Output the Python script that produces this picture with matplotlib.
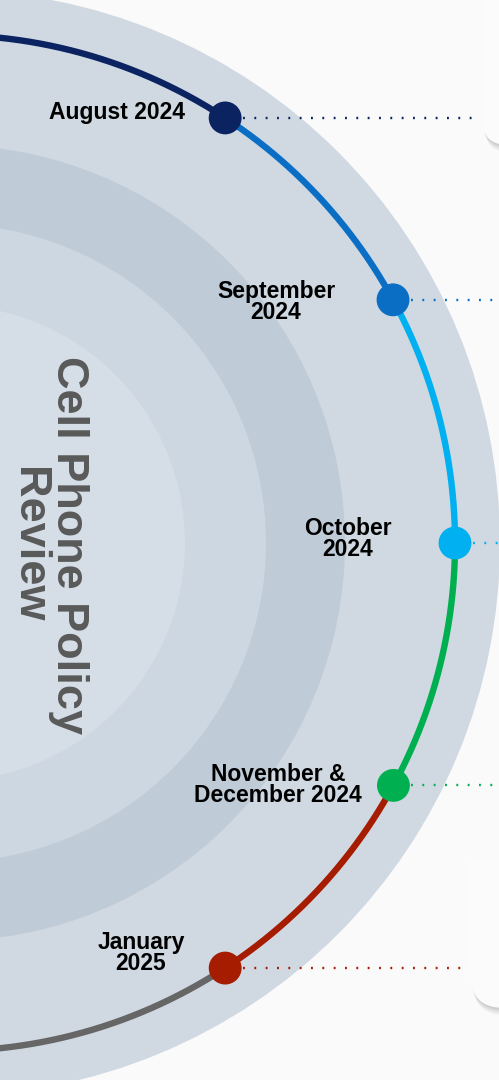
import numpy as np
import matplotlib
matplotlib.use("Agg")
import matplotlib.pyplot as plt
from matplotlib.patches import Circle, FancyBboxPatch

# ---- data ----
milestones = ["August 2024", "September\n2024", "October\n2024",
              "November &\nDecember 2024", "January\n2025"]
node_angles = [56.8, 28.6, 0.0, -28.5, -56.8]          # degrees on the timeline arc
node_colors = ["#0b2461", "#0a6fc4", "#00b0f0", "#00b050", "#a61c00"]
tail_color = "#666666"      # arc after last milestone
title_lines = ["Cell Phone Policy", "Review"]

# ---- layout (pixels) ----
W, H = 499, 1080
cx, cy = -53, 543
r_line = 508
rings = [(553, "#d0d9e2"), (398, "#bfcbd7"), (319, "#cdd7e1"), (238, "#d5dde6")]
label_pos = [(185, 113, "right"), (276, 302, "center"), (348, 539, "center"),
             (278, 785, "center"), (141, 953, "center")]
dot_end = [476, 499, 499, 499, 467]
cards = [(482, -60, 205, 26), (470, 860, 148, 34)]   # x, top, height, rounding
title_x = [68, 28]
bg = "#fafafa"
card_col = "#fbfbfb"

fig = plt.figure(figsize=(W / 100, H / 100), dpi=100)
fig.patch.set_facecolor(bg)
ax = fig.add_axes([0, 0, 1, 1])
ax.set_xlim(0, W)
ax.set_ylim(H, 0)
ax.set_aspect("equal")
ax.axis("off")

for r, c in rings:
    ax.add_patch(Circle((cx, cy), r, facecolor=c, edgecolor="none", zorder=1))

def pt(a, r=r_line):
    t = np.radians(a)
    return cx + r * np.cos(t), cy - r * np.sin(t)

def arc(a0, a1, color):
    t = np.linspace(a0, a1, 200)
    x, y = pt(t)
    ax.plot(x, y, color=color, lw=4.6, solid_capstyle="butt", zorder=3)

arc(96, node_angles[0], node_colors[0])
for i in range(len(node_angles) - 1):
    arc(node_angles[i], node_angles[i + 1], node_colors[i + 1])
arc(node_angles[-1], -96, tail_color)

# cards at right (only their lower-left corners show)
for (x0, y0, h, rs) in cards:
    for (dx, dy, al) in [(3, 8, 0.08), (2, 6, 0.12), (1.5, 4, 0.16), (1, 2, 0.2)]:
        ax.add_patch(FancyBboxPatch((x0 + dx, y0 + dy), 200, h,
                                    boxstyle=f"round,pad=0,rounding_size={rs}",
                                    facecolor="#9a9a9a", edgecolor="none", alpha=al,
                                    zorder=1.5))
    ax.add_patch(FancyBboxPatch((x0, y0), 200, h,
                                boxstyle=f"round,pad=0,rounding_size={rs}",
                                facecolor=card_col, edgecolor="none", zorder=1.6))
    # hide the shadow along the upper part of the left edge and the top edge
    ax.add_patch(plt.Rectangle((x0, y0), 12, h - rs, facecolor=card_col,
                               edgecolor="none", zorder=1.55))
    ax.add_patch(plt.Rectangle((x0, y0), 200, 12, facecolor=card_col,
                               edgecolor="none", zorder=1.55))

for a, col, lab, (lx, ly, ha), xe in zip(node_angles, node_colors, milestones, label_pos, dot_end):
    x, y = pt(a)
    ax.plot([x + 18, xe], [y, y], color=col, lw=1.7, linestyle=(0, (0.8, 4.0)), zorder=2)
    ax.scatter([x], [y], s=560, color=col, zorder=4, edgecolors="none")
    ax.text(lx, ly, lab, ha=ha, va="center", fontsize=16.5, fontweight="bold",
            family=["Liberation Sans", "DejaVu Sans"], color="#000000",
            linespacing=0.92, zorder=5)

for tx, line in zip(title_x, title_lines):
    ax.text(tx, 545, line, rotation=-90, ha="center", va="center",
            fontsize=32.5, fontweight="bold", family=["Liberation Sans", "DejaVu Sans"],
            color="#595959", zorder=5)

fig.savefig("out.png", dpi=100, facecolor=fig.get_facecolor())
